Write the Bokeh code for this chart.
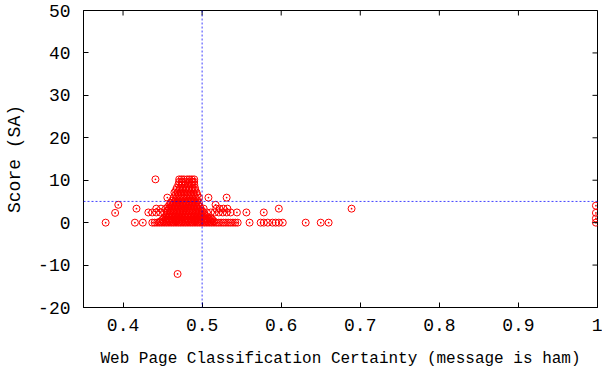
import math
from bokeh.plotting import figure
from bokeh.models import Span, FixedTicker, Range1d, CustomJSTickFormatter, ColumnDataSource
from bokeh.embed import file_html
from bokeh.resources import INLINE

# ---- data ----
x_ticks = [0.4, 0.5, 0.6, 0.7, 0.8, 0.9, 1.0]
y_ticks = [-20, -10, 0, 10, 20, 30, 40, 50]
x_min, x_max = 0.35, 1.0
y_min, y_max = -20, 50
x_threshold = 0.5
y_threshold = 5
x_title = "Web Page Classification Certainty (message is ham)"
y_title = "Score (SA)"

# SpamAssassin score levels and the classification certainties seen at each level
score_levels = [-12.1, 0.0, 0.3, 0.7, 1.0, 1.1, 1.5, 1.9, 2.3, 2.4, 2.8, 3.3, 3.8, 4.0,
                4.2, 4.7, 5.2, 5.9, 6.5, 7.1, 7.7, 8.2, 9.0, 9.6, 10.2]
certainty_rows = [
    [0.469],
    [0.378, 0.415, 0.425, 0.437, 0.440, 0.443, 0.446, 0.449, 0.452, 0.455, 0.458, 0.461,
     0.464, 0.467, 0.470, 0.473, 0.476, 0.479, 0.482, 0.485, 0.488, 0.491, 0.494, 0.497,
     0.500, 0.503, 0.506, 0.509, 0.512, 0.515, 0.518, 0.521, 0.524, 0.527, 0.530, 0.533,
     0.536, 0.539, 0.542, 0.545, 0.560, 0.574, 0.578, 0.583, 0.589, 0.593, 0.597, 0.602,
     0.631, 0.650, 0.660, 0.998],
    [0.447, 0.451, 0.455, 0.459, 0.463, 0.467, 0.471, 0.475, 0.479, 0.483, 0.487, 0.491,
     0.495, 0.499, 0.503, 0.507, 0.511, 0.515],
    [0.450, 0.454, 0.458, 0.462, 0.466, 0.470, 0.474, 0.478, 0.482, 0.486, 0.490, 0.494,
     0.498, 0.502, 0.506, 0.510, 0.513],
    [0.998],
    [0.452, 0.456, 0.460, 0.464, 0.468, 0.472, 0.476, 0.480, 0.484, 0.488, 0.492, 0.496,
     0.500, 0.504, 0.508, 0.511],
    [0.454, 0.458, 0.462, 0.466, 0.470, 0.474, 0.478, 0.482, 0.486, 0.490, 0.494, 0.498,
     0.502, 0.506],
    [0.455, 0.459, 0.463, 0.467, 0.471, 0.475, 0.479, 0.483, 0.487, 0.491, 0.495, 0.499,
     0.503],
    [0.390, 0.998],
    [0.432, 0.437, 0.442, 0.447, 0.452, 0.456, 0.460, 0.464, 0.468, 0.472, 0.476, 0.480,
     0.484, 0.488, 0.492, 0.496, 0.500, 0.506, 0.511, 0.516, 0.521, 0.526, 0.531, 0.536,
     0.544, 0.556, 0.578],
    [0.456, 0.460, 0.464, 0.468, 0.472, 0.476, 0.480, 0.484, 0.488, 0.492, 0.496, 0.500],
    [0.417, 0.442, 0.448, 0.454, 0.458, 0.462, 0.466, 0.470, 0.474, 0.478, 0.482, 0.486,
     0.490, 0.494, 0.498, 0.502, 0.518, 0.522, 0.527, 0.532, 0.597, 0.689],
    [0.457, 0.461, 0.465, 0.469, 0.473, 0.477, 0.481, 0.485, 0.489, 0.493, 0.497],
    [0.998],
    [0.394, 0.459, 0.463, 0.467, 0.471, 0.475, 0.479, 0.483, 0.487, 0.491, 0.495, 0.517],
    [0.460, 0.464, 0.468, 0.472, 0.476, 0.480, 0.484, 0.488, 0.492, 0.496],
    [0.462, 0.466, 0.470, 0.474, 0.478, 0.482, 0.486, 0.490, 0.494],
    [0.456, 0.464, 0.468, 0.472, 0.476, 0.480, 0.484, 0.488, 0.492, 0.496, 0.508, 0.531],
    [0.466, 0.470, 0.474, 0.478, 0.482, 0.486, 0.490, 0.494],
    [0.465, 0.469, 0.473, 0.477, 0.481, 0.485, 0.489, 0.493],
    [0.467, 0.471, 0.475, 0.479, 0.483, 0.487, 0.491],
    [0.468, 0.472, 0.476, 0.480, 0.484, 0.488, 0.491],
    [0.470, 0.474, 0.478, 0.482, 0.486, 0.490],
    [0.471, 0.475, 0.479, 0.484, 0.488, 0.490],
    [0.441, 0.471, 0.474, 0.477, 0.481, 0.484, 0.487, 0.490],
]

certainty = []
score = []
for lvl, row in zip(score_levels, certainty_rows):
    for c in row:
        certainty.append(c)
        score.append(lvl)

source = ColumnDataSource(dict(x=certainty, y=score))

FONT = "Liberation Mono"

p = figure(width=602, height=372,
           x_range=Range1d(x_min, x_max), y_range=Range1d(y_min, y_max),
           output_backend="svg", toolbar_location=None,
           min_border_left=83, min_border_right=5, min_border_top=10, min_border_bottom=65,
           x_axis_label=x_title, y_axis_label=y_title)
p.grid.visible = False
p.outline_line_color = "black"
p.outline_line_width = 1
p.background_fill_color = "white"
p.border_fill_color = "white"

bx = p.xaxis[0]
ly = p.yaxis[0]

p.scatter("x", "y", source=source, marker="circle_dot", size=7,
          line_color="#ff0000", fill_color=None, line_width=1)

p.add_layout(Span(location=x_threshold, dimension="height", line_color="#0000ff",
                  line_alpha=0.75, line_dash="2 2", line_width=1))
p.add_layout(Span(location=y_threshold, dimension="width", line_color="#0000ff",
                  line_alpha=0.75, line_dash="2 2", line_width=1))

# mirrored inward ticks on the top and right edges (half of each dash is clipped away)
p.scatter(x=x_ticks, y=[y_max] * len(x_ticks), marker="dash", angle=math.pi / 2,
          size=10, line_color="black", line_width=1)
p.scatter(x=[x_max] * len(y_ticks), y=y_ticks, marker="dash",
          size=10, line_color="black", line_width=1)

xfmt = CustomJSTickFormatter(code="return tick > 0.999 ? '1' : tick.toFixed(1);")
yfmt = CustomJSTickFormatter(code="return tick.toFixed(0);")

for ax, ticks in [(bx, x_ticks), (ly, y_ticks)]:
    ax.ticker = FixedTicker(ticks=ticks)
    ax.major_tick_in = 5
    ax.major_tick_out = 0
    ax.minor_tick_line_color = None
    ax.axis_line_color = "black"
    ax.major_tick_line_color = "black"
    ax.major_label_text_font = FONT
    ax.major_label_text_color = "black"
    ax.major_label_text_font_size = "18px"
    ax.axis_label_text_font = FONT
    ax.axis_label_text_font_style = "normal"
    ax.axis_label_text_color = "black"

bx.formatter = xfmt
bx.major_label_standoff = 11
bx.axis_label_text_font_size = "16px"
bx.axis_label_standoff = 16

ly.formatter = yfmt
ly.major_label_standoff = 13
ly.axis_label_text_font_size = "18px"
ly.axis_label_standoff = 10

open("out.html", "w").write(file_html(p, INLINE))
